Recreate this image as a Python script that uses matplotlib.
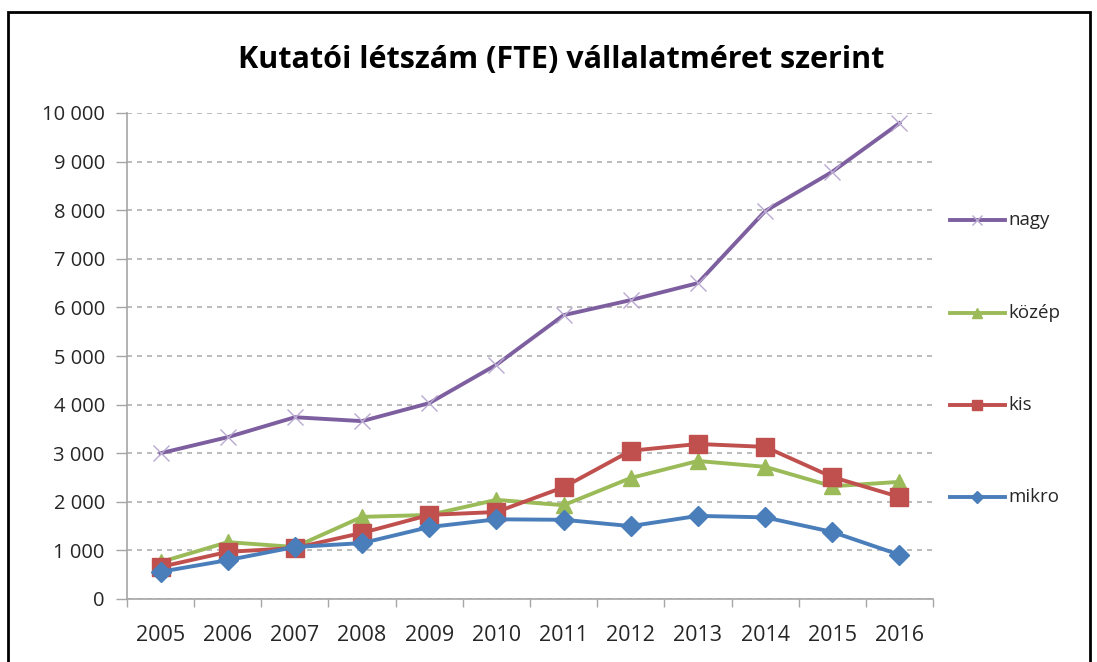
import matplotlib
matplotlib.use('Agg')
import matplotlib.pyplot as plt
from matplotlib.patches import Rectangle
from matplotlib.lines import Line2D
import numpy as np

years = ['2005', '2006', '2007', '2008', '2009', '2010',
         '2011', '2012', '2013', '2014', '2015', '2016']
nagy = [3000, 3330, 3740, 3660, 4030, 4820, 5840, 6150, 6500, 7980, 8790, 9790]
kozep = [760, 1170, 1070, 1690, 1730, 2040, 1930, 2490, 2840, 2720, 2320, 2410]
kis = [660, 970, 1050, 1360, 1730, 1790, 2300, 3050, 3190, 3130, 2510, 2100]
mikro = [560, 800, 1070, 1150, 1480, 1640, 1630, 1500, 1710, 1680, 1380, 910]
series_names = ['nagy', 'közép', 'kis', 'mikro']

plt.rcParams['font.family'] = ['Open Sans', 'DejaVu Sans']

fig = plt.figure(figsize=(10.97, 6.62), dpi=100)
fig.patches.append(Rectangle((8 / 1097, -0.1), (1090 - 8) / 1097, 1.1 - 12 / 662,
                             transform=fig.transFigure, fill=False,
                             edgecolor='black', linewidth=2))

ax = fig.add_axes([127 / 1097, 63 / 662, 806 / 1097, 486 / 662])
x = np.arange(len(years))

styles = [
    (nagy, '#7D5FA0', 'x', 12, '#B9A8D0', 1.0),
    (kozep, '#9BBB59', '^', 12, '#9BBB59', 1.0),
    (kis, '#C0504D', 's', 13, '#C0504D', 1.0),
    (mikro, '#4A7EBB', 'D', 10, '#4A7EBB', 1.0),
]
for (vals, col, mk, ms, mcol, mew), name in zip(styles, series_names):
    ax.plot(x, vals, color=col, linewidth=2.8, marker=mk, markersize=ms,
            markerfacecolor=mcol, markeredgecolor=mcol, markeredgewidth=mew,
            zorder=3)

ax.set_xlim(-0.5, len(years) - 0.5)
ax.set_ylim(0, 10000)
ax.set_yticks(np.arange(0, 10001, 1000))
ax.set_yticklabels([f'{v:,}'.replace(',', ' ') for v in range(0, 10001, 1000)])
ax.set_xticks(x)
ax.set_xticklabels(years)
ax.set_xticks(np.arange(-0.5, len(years), 1), minor=True)
ax.tick_params(axis='x', which='major', length=0, pad=19, labelsize=15.5, colors='#262626')
ax.tick_params(axis='x', which='minor', length=6, color='#A6A6A6', width=1)
ax.tick_params(axis='y', length=8, color='#A6A6A6', width=1, pad=8,
               labelsize=14.5, labelcolor='#262626')
ax.grid(axis='y', linestyle=(0, (3, 3)), color='#B0B0B0', linewidth=1.2)
ax.set_axisbelow(True)
for side in ['top', 'right']:
    ax.spines[side].set_visible(False)
for side in ['left', 'bottom']:
    ax.spines[side].set_color('#A6A6A6')
    ax.spines[side].set_linewidth(1.2)

fig.text(561 / 1097, 1 - 60 / 662, 'Kutatói létszám (FTE) vállalatméret szerint',
         ha='center', va='center', fontsize=22, fontweight='bold', color='black')

# legend entries spread vertically as in the original
leg_y = [220, 313, 405, 497]
for (vals, col, mk, ms, mcol, mew), name, yy in zip(styles, series_names, leg_y):
    fy = 1 - yy / 662
    fig.add_artist(Line2D([950 / 1097, 1005 / 1097], [fy, fy], color=col,
                          linewidth=2.8, transform=fig.transFigure))
    fig.add_artist(Line2D([977 / 1097], [fy], marker=mk, markersize=ms * 0.6,
                          color=mcol, markeredgecolor=mcol, linestyle='none',
                          transform=fig.transFigure))
    fig.text(1008 / 1097, fy, name, ha='left', va='center', fontsize=13.5,
             color='#262626')

fig.savefig('out.png', dpi=100)
